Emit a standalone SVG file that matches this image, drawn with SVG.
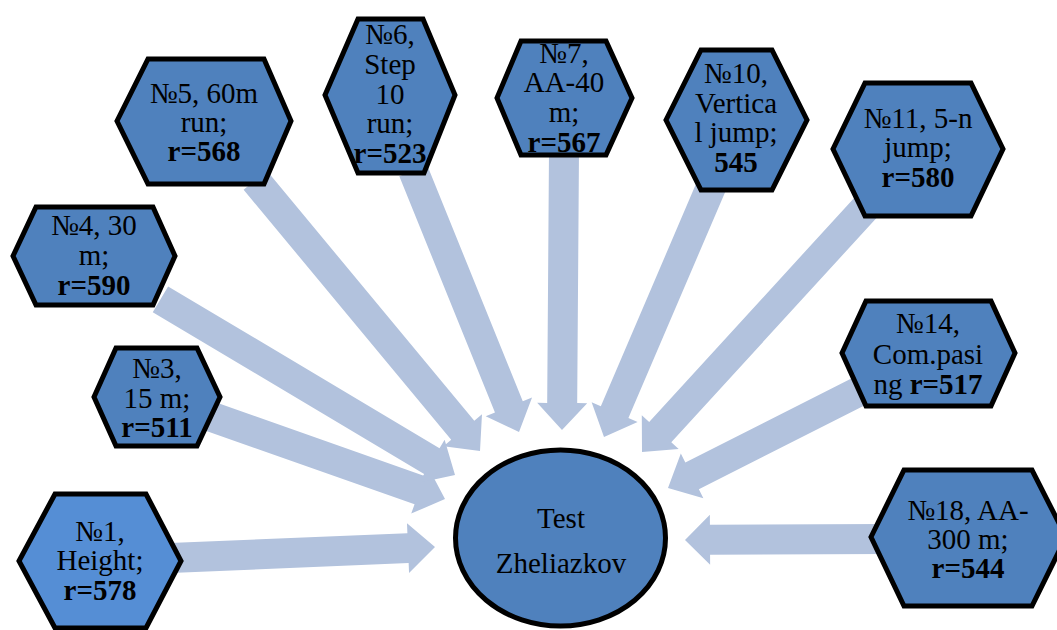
<svg xmlns="http://www.w3.org/2000/svg" width="1057" height="630" viewBox="0 0 1057 630">
<style>
.hex{fill:#4F81BD;stroke:#000;stroke-width:5;stroke-linejoin:miter}
.hex1{fill:#558ED5}
.arr{fill:#B2C2DD}
.b{font-weight:bold}
</style>
<rect width="1057" height="630" fill="#fff"/>
<g id="connectors">
<path class="arr" transform="translate(435,547) rotate(-2.38)" d="M-265,-15H-27V-25L0,0L-27,25V15H-265Z"/>
<path class="arr" transform="translate(445,499) rotate(19.39)" d="M-265,-15H-27V-25L0,0L-27,25V15H-265Z"/>
<path class="arr" transform="translate(455,475) rotate(30.82)" d="M-343,-15H-27V-25L0,0L-27,25V15H-343Z"/>
<path class="arr" transform="translate(480,451) rotate(50.3)" d="M-352,-15H-27V-25L0,0L-27,25V15H-352Z"/>
<path class="arr" transform="translate(519,432) rotate(67.97)" d="M-282,-15H-27V-25L0,0L-27,25V15H-282Z"/>
<path class="arr" transform="translate(562,430) rotate(90.41)" d="M-280,-15H-27V-25L0,0L-27,25V15H-280Z"/>
<path class="arr" transform="translate(604,437) rotate(113.17)" d="M-279,-15H-27V-25L0,0L-27,25V15H-279Z"/>
<path class="arr" transform="translate(642,452) rotate(132.46)" d="M-335,-15H-27V-25L0,0L-27,25V15H-335Z"/>
<path class="arr" transform="translate(668,488) rotate(153.19)" d="M-213,-15H-27V-25L0,0L-27,25V15H-213Z"/>
<path class="arr" transform="translate(685,540) rotate(179.71)" d="M-200,-15H-25V-25L0,0L-25,25V15H-200Z"/>
</g>
<g font-family="'Liberation Serif', 'DejaVu Serif', serif" font-size="29" text-anchor="middle" fill="#000">
<g id="n1">
<polygon class="hex hex1" points="19,561 55,494 146,494 181,561 146,628 55,628"/>
<text x="100" y="541">№1,</text>
<text x="100" y="570">Height;</text>
<text x="100" y="600" class="b">r=578</text>
</g>
<g id="n3">
<polygon class="hex" points="94,397 116,348 197,348 220,397 197,446 116,446"/>
<text x="157" y="378">№3,</text>
<text x="157" y="408">15 m;</text>
<text x="157" y="437" class="b">r=511</text>
</g>
<g id="n4">
<polygon class="hex" points="13,256 36,207 153,207 175,256 153,305 36,305"/>
<text x="94" y="235">№4, 30</text>
<text x="94" y="265">m;</text>
<text x="94" y="295" class="b">r=590</text>
</g>
<g id="n5">
<polygon class="hex" points="117,121 148,59 264,59 291,121 264,184 148,184"/>
<text x="204" y="103">№5, 60m</text>
<text x="204" y="132">run;</text>
<text x="204" y="161" class="b">r=568</text>
</g>
<g id="n6">
<polygon class="hex" points="325,95 358,19 423,19 455,95 424,173 358,173"/>
<text x="390" y="44">№6,</text>
<text x="390" y="74">Step</text>
<text x="390" y="103.5">10</text>
<text x="390" y="133">run;</text>
<text x="390" y="163" class="b">r=523</text>
</g>
<g id="n7">
<polygon class="hex" points="497,98 521,41 606,41 632,98 606,155 521,155"/>
<text x="564" y="63">№7,</text>
<text x="564" y="92">AA-40</text>
<text x="564" y="122">m;</text>
<text x="564" y="152" class="b">r=567</text>
</g>
<g id="n10">
<polygon class="hex" points="666,120 701,50 772,50 807,120 772,190 701,190"/>
<text x="736" y="83">№10,</text>
<text x="736" y="113">Vertica</text>
<text x="736" y="142">l jump;</text>
<text x="736" y="172" class="b">545</text>
</g>
<g id="n11">
<polygon class="hex" points="833,149 865,83 971,83 1003,149 971,216 865,216"/>
<text x="918" y="128">№11, 5-n</text>
<text x="918" y="157">jump;</text>
<text x="918" y="187" class="b">r=580</text>
</g>
<g id="n14">
<polygon class="hex" points="842,353 866,301 991,301 1015,353 991,406 866,406"/>
<text x="928" y="333">№14,</text>
<text x="928" y="364">Com.pasi</text>
<text x="928" y="394">ng <tspan class="b">r=517</tspan></text>
</g>
<g id="n18">
<polygon class="hex" points="871,537 904,470 1032,470 1066,537 1032,606 904,606"/>
<text x="968" y="520">№18, AA-</text>
<text x="968" y="549">300 m;</text>
<text x="968" y="578" class="b">r=544</text>
</g>
<g id="center">
<ellipse cx="560.5" cy="538" rx="105" ry="88" fill="#4F81BD" stroke="#000" stroke-width="5"/>
<text x="561" y="528">Test</text>
<text x="561" y="573">Zheliazkov</text>
</g>
</g>
</svg>
